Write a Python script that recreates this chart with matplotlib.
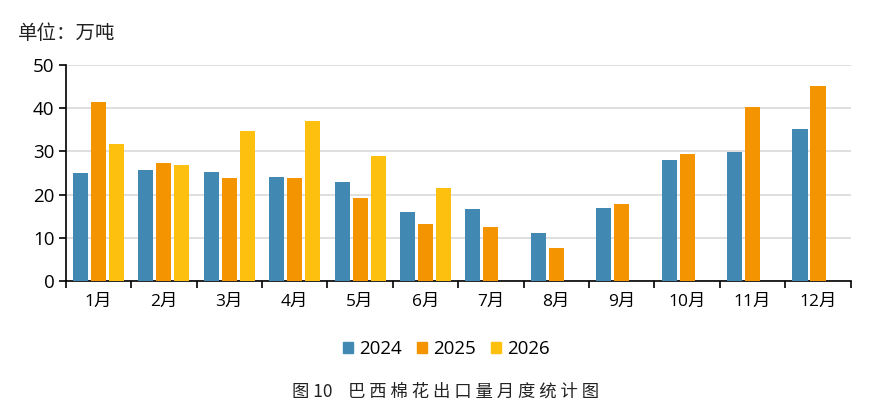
import numpy as np
import matplotlib.pyplot as plt
from matplotlib.patches import Patch

plt.rcParams['font.family'] = ['Open Sans', 'Noto Sans CJK SC', 'DejaVu Sans']

# 巴西棉花出口量（万吨）
months = ['1月', '2月', '3月', '4月', '5月', '6月', '7月', '8月', '9月', '10月', '11月', '12月']
y2024 = [25.0, 25.7, 25.2, 24.1, 22.9, 16.0, 16.7, 11.2, 16.9, 28.0, 29.8, 35.2]
y2025 = [41.4, 27.3, 23.8, 23.8, 19.2, 13.2, 12.5, 7.7, 17.8, 29.4, 40.2, 45.1]
y2026 = [31.7, 26.8, 34.7, 37.0, 28.9, 21.5, np.nan, np.nan, np.nan, np.nan, np.nan, np.nan]
years = ['2024', '2025', '2026']
colors = ['#4189B3', '#F39400', '#FEC00F']

fig = plt.figure(figsize=(8.79, 4.20), dpi=100)
ax = fig.add_axes([0.0747, 0.3302, 0.8931, 0.5158])

x = np.arange(len(months))
w = 0.23
step = 0.275
for i, (vals, c) in enumerate(zip([y2024, y2025, y2026], colors)):
    ax.bar(x + (i - 1) * step, vals, width=w, color=c, zorder=3)

ax.set_xlim(-0.5, 11.5)
ax.set_ylim(0, 50)
ax.set_yticks([0, 10, 20, 30, 40, 50])
ax.yaxis.grid(True, color='#d9d9d9', linewidth=1.2, zorder=0)
ax.set_axisbelow(True)

ax.set_xticks(x)
ax.set_xticklabels(months, fontsize=12.5)
ax.set_xticks(np.arange(-0.5, 12, 1), minor=True)
ax.tick_params(axis='x', which='major', length=0, pad=9)
ax.tick_params(axis='x', which='minor', length=5, width=1.2, direction='out')
ax.tick_params(axis='y', length=5, width=1.2, labelsize=13.5, pad=3)

for s in ['top', 'right']:
    ax.spines[s].set_visible(False)
for s in ['left', 'bottom']:
    ax.spines[s].set_linewidth(1.2)
    ax.spines[s].set_color('black')

fig.text(0.02, 0.92, '单位：万吨', fontsize=14, family=['Noto Sans CJK SC'], va='center',
         color='#222222')

handles = [Patch(color=c, label=y) for c, y in zip(colors, years)]
fig.legend(handles=handles, loc='center', bbox_to_anchor=(0.508, 0.169), ncol=3,
           frameon=False, fontsize=13.5, handlelength=0.55, handleheight=0.55,
           handletextpad=0.32, columnspacing=0.8)

fig.text(0.507, 0.067, '图 10    巴 西 棉 花 出 口 量 月 度 统 计 图', fontsize=12.5,
         family=['Noto Sans CJK SC', 'DejaVu Sans'], ha='center', va='center', color='#222222')

fig.savefig('out.png', dpi=100)
